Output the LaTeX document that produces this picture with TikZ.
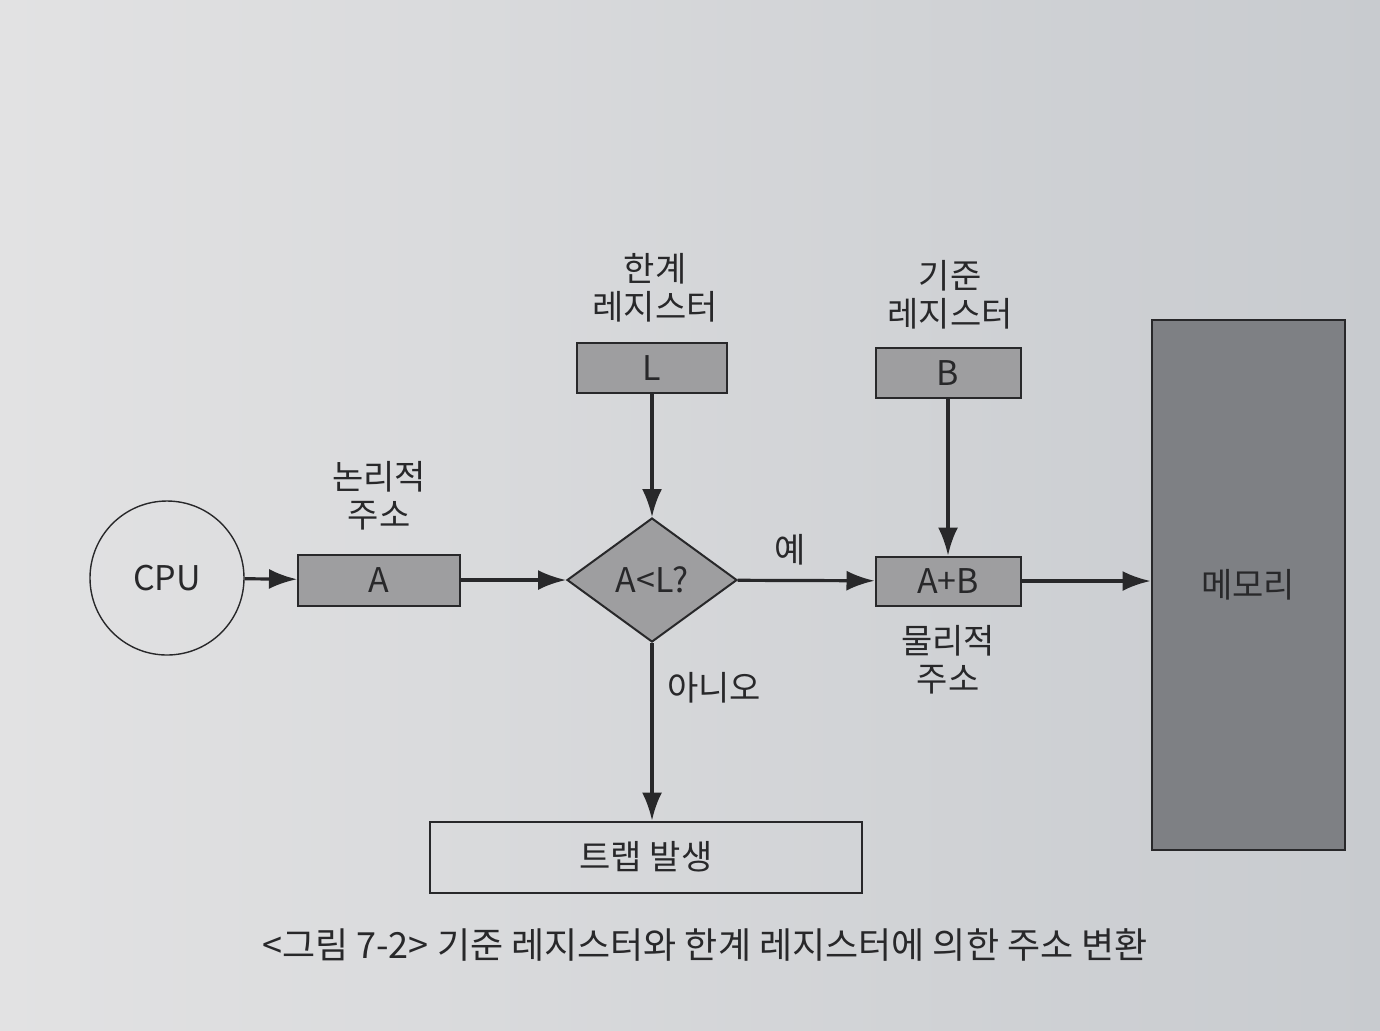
\documentclass[tikz,border=0pt]{standalone}
\usepackage{fontspec}
\setmainfont{Noto Sans CJK KR}
\usetikzlibrary{arrows.meta,shapes.geometric}
\definecolor{pagelight}{RGB}{226,226,227}
\definecolor{pagedark}{RGB}{200,203,207}
\definecolor{boxgray}{RGB}{158,158,160}
\definecolor{memgray}{RGB}{126,128,132}
\definecolor{inkgray}{RGB}{40,40,42}

\begin{document}
\begin{tikzpicture}[x=0.5pt, y=-0.5pt,
	every node/.style={font=\fontsize{17pt}{19pt}\selectfont, text=inkgray},
	>={Latex[length=14pt, width=10pt]},
	regbox/.style={draw=inkgray, line width=1pt, fill=boxgray, inner sep=0pt},
	flow/.style={->, draw=inkgray, line width=1.6pt}]
	\useasboundingbox (0,0) rectangle (1380,1030);
	\shade[left color=pagelight, right color=pagedark] (0,0) rectangle (1380,1030);
	% nodes
	\node[draw=inkgray, line width=0.7pt, circle, minimum size=77pt, inner sep=0pt] (cpu) at (167,578) {CPU};
	\node[regbox, minimum width=81pt, minimum height=25.5pt] (A) at (379,580) {A};
	\node[align=center] (logaddr) at (379,496) {논리적\\주소};
	\node[regbox, diamond, minimum width=85pt, minimum height=62pt] (dia) at (652,580) {A<L?};
	\node[regbox, minimum width=75pt, minimum height=25pt] (L) at (652,368) {L};
	\node[align=center] (limit) at (655,288) {한계\\레지스터};
	\node[regbox, minimum width=72.5pt, minimum height=25pt] (B) at (948,373) {B};
	\node[align=center] (base) at (950,295) {기준\\레지스터};
	\node[regbox, minimum width=72.5pt, minimum height=24.5pt] (AB) at (948,581) {A+B};
	\node[align=center] (physaddr) at (948,660) {물리적\\주소};
	\node[regbox, fill=memgray, minimum width=96.5pt, minimum height=265pt] (mem) at (1248,585) {메모리};
	\node[draw=inkgray, line width=1pt, minimum width=216pt, minimum height=35.5pt, inner sep=0pt] (trap) at (646,857) {트랩 발생};
	\node (yes) at (790,550) {예};
	\node (no) at (714,688) {아니오};
	\node[font=\fontsize{18pt}{21pt}\selectfont] (caption) at (705,945) {<그림 7-2> 기준 레지스터와 한계 레지스터에 의한 주소 변환};
	% connectors
	\draw[flow] (cpu) -- (A);
	\draw[flow] (A) -- (dia);
	\draw[flow] (L) -- (dia);
	\draw[flow] (dia) -- (AB);
	\draw[flow] (B) -- (AB);
	\draw[flow] (AB) -- (AB -| mem.west);
	\draw[flow] (dia) -- (dia |- trap.north);
\end{tikzpicture}
\end{document}
